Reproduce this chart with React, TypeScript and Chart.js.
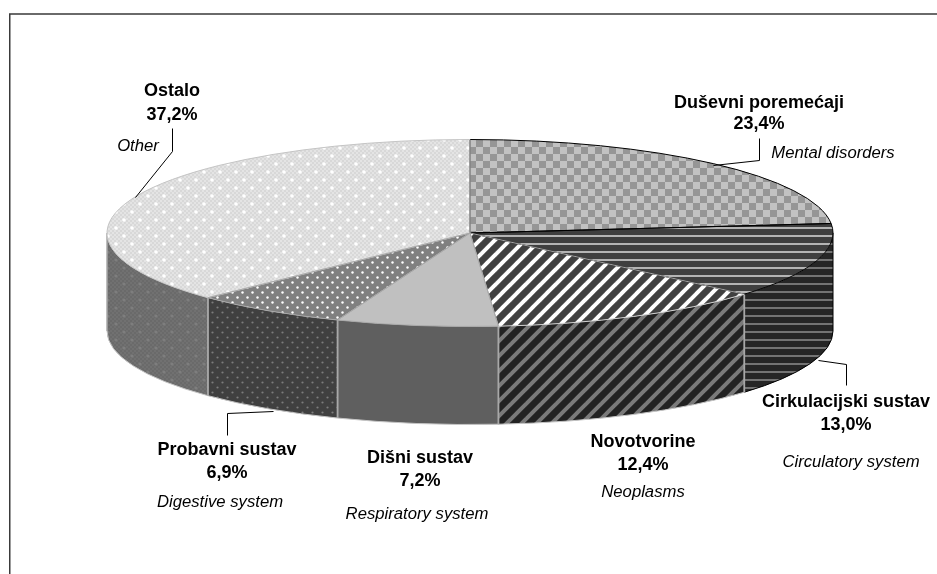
import React, { useEffect, useRef } from "react";
import { Chart, registerables } from "chart.js";

Chart.register(...registerables);

const categories = ["Duševni poremećaji", "Cirkulacijski sustav", "Novotvorine", "Dišni sustav", "Probavni sustav", "Ostalo"];
const translations = ["Mental disorders", "Circulatory system", "Neoplasms", "Respiratory system", "Digestive system", "Other"];
const shares = [23.4, 13.0, 12.4, 7.2, 6.9, 37.2];

const W = 937, H = 574;
const CX = 470, CY = 233, RX = 363, RY = 93.5, DEPTH = 98;
const K = RY / RX;
const FONT = '"Liberation Sans", Arial, sans-serif';

// label layout: [centerX, nameY, percentY, translationCenterX, translationY]
const labelPos = [
  [759, 103, 124, 833, 153],
  [846, 402, 425, 851, 462],
  [643, 442, 465, 643, 492],
  [420, 458, 481, 417, 514],
  [227, 450, 473, 220, 502],
  [172, 91, 115, 138, 146],
];
const leaders = [
  [[759, 138], [759, 160], [713, 165]],
  [[846, 385], [846, 364], [818, 360]],
  [[227, 435], [227, 413], [273, 411]],
  [[172, 128], [172, 151], [135, 197]],
];

function tile(w: number, h: number, draw: (c: CanvasRenderingContext2D) => void, flat: boolean) {
  const cv = document.createElement("canvas");
  cv.width = w; cv.height = h;
  const c = cv.getContext("2d")!;
  draw(c);
  const ctx = document.createElement("canvas").getContext("2d")!;
  const p = ctx.createPattern(cv, "repeat")!;
  if (flat) {
    p.setTransform(new DOMMatrix().translate(CX, CY).scale(1, 1 / K).translate(-CX, -CY));
  }
  return p;
}
const checker = (a: string, b: string, s: number) => (c: CanvasRenderingContext2D) => {
  c.fillStyle = a; c.fillRect(0, 0, s * 2, s * 2);
  c.fillStyle = b; c.fillRect(0, 0, s, s); c.fillRect(s, s, s, s);
};
const hstripes = (bg: string, fg: string, h: number) => (c: CanvasRenderingContext2D) => {
  c.fillStyle = bg; c.fillRect(0, 0, 20, 20);
  c.fillStyle = fg; c.fillRect(0, 3, 20, h);
};
const diag = (bg: string, fg: string, s: number, lw: number) => (c: CanvasRenderingContext2D) => {
  c.fillStyle = bg; c.fillRect(0, 0, s, s);
  c.strokeStyle = fg; c.lineWidth = lw;
  for (const o of [-s, 0, s]) {
    c.beginPath(); c.moveTo(o - s, 2 * s); c.lineTo(o + 2 * s, -s); c.stroke();
  }
};
const dots = (bg: string, fg: string, s: number, r: number, fine?: string) => (c: CanvasRenderingContext2D) => {
  c.fillStyle = bg; c.fillRect(0, 0, s, s);
  if (fine) {
    c.fillStyle = fine;
    for (let y = 0; y < s; y += 2) for (let x = y % 4 === 0 ? 0 : 2; x < s; x += 4) c.fillRect(x, y, 2, 2);
  }
  c.fillStyle = fg;
  for (const [x, y] of [[s / 4, s / 4], [(3 * s) / 4, (3 * s) / 4]]) {
    c.beginPath(); c.arc(x, y, r, 0, Math.PI * 2); c.fill();
  }
};

export default function App() {
  const ref = useRef<HTMLCanvasElement>(null);
  useEffect(() => {
    const topFill = [
      tile(14, 14, checker("#c2c2c2", "#969696", 7), true),
      tile(20, 8, hstripes("#3f3f3f", "#b4b4b4", 2), true),
      tile(15, 15, diag("#404040", "#ffffff", 15, 4), true),
      "#c0c0c0",
      tile(10, 10, dots("#808080", "#ffffff", 10, 1.2), true),
      tile(16, 16, dots("#d8d8d8", "#ffffff", 16, 1.8, "#e4e4e4"), true),
    ];
    const wallFill = [
      "#333333",
      tile(20, 8, hstripes("#262626", "#747474", 2), false),
      tile(15, 15, diag("#222222", "#7a7a7a", 15, 4), false),
      "#5f5f5f",
      tile(10, 10, dots("#404040", "#7c7c7c", 10, 1.1), false),
      tile(16, 16, dots("#6a6a6a", "#7e7e7e", 16, 1.6, "#717171"), false),
    ];
    const arcsOf = (chart: Chart) => chart.getDatasetMeta(0).data as any[];

    const flatten = {
      id: "flatten",
      beforeDatasetsDraw(chart: Chart) {
        const ctx = chart.ctx;
        const arcs = arcsOf(chart);
        const x = arcs[0].x, y = arcs[0].y, r = arcs[0].outerRadius;
        const ry = r * K;
        // side wall of the disc, lower half only
        const walls = arcs.map((a, i) => ({ i, s: Math.max(a.startAngle, 0), e: Math.min(a.endAngle, Math.PI) })).filter((w) => w.e > w.s);
        for (const w of walls) {
          ctx.beginPath();
          ctx.ellipse(x, y, r, ry, 0, w.s, w.e);
          ctx.ellipse(x, y + DEPTH, r, ry, 0, w.e, w.s, true);
          ctx.closePath();
          ctx.fillStyle = wallFill[w.i] as any;
          ctx.fill();
        }
        for (const w of walls) {
          ctx.lineWidth = 1;
          ctx.strokeStyle = w.i === 1 ? "#000000" : "#c4c4c4";
          ctx.beginPath();
          ctx.ellipse(x, y + DEPTH, r, ry, 0, w.s, w.e);
          ctx.stroke();
          for (const ang of [w.s, w.e]) {
            const px = x + r * Math.cos(ang), py = y + ry * Math.sin(ang);
            const edge = ang === 0;
            ctx.strokeStyle = edge ? "#000000" : "#a8a8a8";
            ctx.lineWidth = edge ? 1 : 1.5;
            ctx.beginPath(); ctx.moveTo(px, py); ctx.lineTo(px, py + DEPTH); ctx.stroke();
          }
        }
        ctx.save();
        ctx.translate(x, y); ctx.scale(1, K); ctx.translate(-x, -y);
      },
      afterDatasetsDraw(chart: Chart) {
        const ctx = chart.ctx;
        ctx.restore();
        const arcs = arcsOf(chart);
        const x = arcs[0].x, y = arcs[0].y, r = arcs[0].outerRadius;
        const ry = r * K;
        const outline = (i: number, color: string, arcColor: string) => {
          const a = arcs[i];
          ctx.lineWidth = 1;
          ctx.strokeStyle = color;
          ctx.beginPath();
          ctx.moveTo(x + r * Math.cos(a.endAngle), y + ry * Math.sin(a.endAngle));
          ctx.lineTo(x, y);
          ctx.lineTo(x + r * Math.cos(a.startAngle), y + ry * Math.sin(a.startAngle));
          ctx.stroke();
          ctx.strokeStyle = arcColor;
          ctx.beginPath();
          ctx.ellipse(x, y, r, ry, 0, a.startAngle, a.endAngle);
          ctx.stroke();
        };
        outline(1, "#000000", "#000000");
        outline(0, "#000000", "#000000");
        outline(5, "#c4c4c4", "#c4c4c4");
        outline(4, "#a8a8a8", "#a8a8a8");
        outline(3, "#a8a8a8", "#a8a8a8");
        outline(2, "#a8a8a8", "#d0d0d0");
      },
      afterDraw(chart: Chart) {
        const ctx = chart.ctx;
        ctx.save();
        // frame: left and top edges
        ctx.strokeStyle = "#3a3a3a";
        ctx.lineWidth = 1.5;
        ctx.beginPath();
        ctx.moveTo(9.75, H); ctx.lineTo(9.75, 14); ctx.lineTo(W, 14);
        ctx.stroke();
        // leader lines
        ctx.strokeStyle = "#000000";
        ctx.lineWidth = 1;
        for (const l of leaders) {
          ctx.beginPath();
          l.forEach(([px, py], i) => (i ? ctx.lineTo(px + 0.5, py + 0.5) : ctx.moveTo(px + 0.5, py + 0.5)));
          ctx.stroke();
        }
        ctx.textAlign = "center";
        ctx.textBaseline = "middle";
        ctx.fillStyle = "#000000";
        categories.forEach((name, i) => {
          const [lx, ny, py, tx, ty] = labelPos[i];
          ctx.font = `bold 18px ${FONT}`;
          ctx.fillText(name, lx, ny);
          ctx.fillText(shares[i].toFixed(1).replace(".", ",") + "%", lx, py);
          ctx.font = `italic 16.7px ${FONT}`;
          ctx.fillText(translations[i], tx, ty);
        });
        ctx.restore();
      },
    };

    const chart = new Chart(ref.current!, {
      type: "pie",
      data: {
        labels: categories,
        datasets: [{ data: shares, backgroundColor: topFill as any, borderWidth: 0, clip: false as any, radius: RX as any }],
      },
      options: {
        animation: false,
        responsive: false,
        events: [],
        layout: { padding: { left: 3, right: 0, top: 0, bottom: 108 } },
        plugins: { legend: { display: false }, title: { display: false }, tooltip: { enabled: false } },
      },
      plugins: [flatten],
    });
    return () => chart.destroy();
  }, []);
  return (
    <div style={{ position: "absolute", left: 0, top: 0, width: W, height: H, overflow: "hidden", background: "#fff" }}>
      <canvas ref={ref} width={W} height={H} style={{ display: "block" }} />
    </div>
  );
}
